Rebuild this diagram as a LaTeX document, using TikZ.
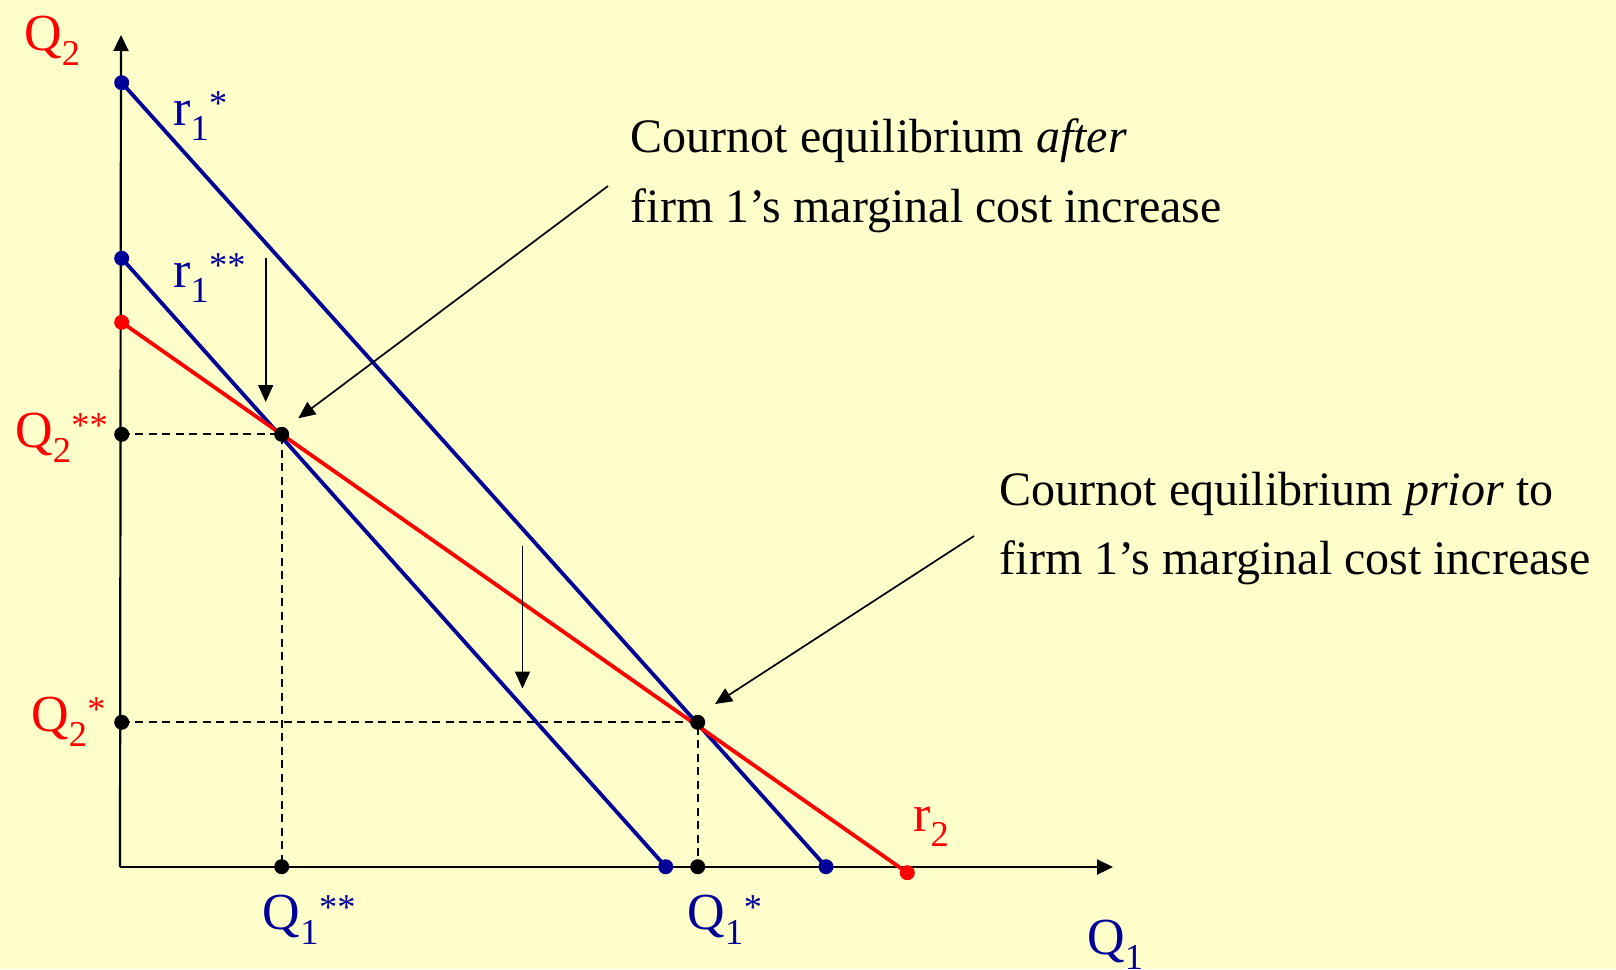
\documentclass[tikz,border=0pt]{standalone}
\usepackage{fontspec}
\setmainfont{Liberation Serif}
\usetikzlibrary{arrows.meta}
\definecolor{bgyellow}{RGB}{255,255,204}
\definecolor{navy}{RGB}{0,0,153}
\definecolor{redline}{RGB}{255,0,0}
\begin{document}
\begin{tikzpicture}[x=1pt,y=-1pt,
  dot/.style={circle,fill=#1,inner sep=0pt,minimum size=15pt},
  dot/.default=black,
  resp/.style={line width=3.8pt,draw=#1},
  axisline/.style={line width=2.2pt,-{Triangle[length=16pt,width=15pt]}},
  guide/.style={line width=1.9pt,dash pattern=on 8pt off 5.5pt},
  pointer/.style={line width=1.7pt,-{Triangle[length=17pt,width=15pt]}},
  note/.style={font=\fontsize{48}{70}\selectfont,inner sep=0pt,anchor=base west},
  lbl/.style={font=\fontsize{52}{60}\selectfont,inner sep=0pt,anchor=base west,text=#1},
]
\fill[bgyellow] (0,0) rectangle (1616,969);
\useasboundingbox (0,0) rectangle (1616,969);

% key points
\coordinate (O) at (120,867);
\coordinate (ytop) at (121,35);
\coordinate (xend) at (1113,867);
\coordinate (r1sT) at (121.7,82.7);
\coordinate (r1sB) at (826,866.7);
\coordinate (r1ssT) at (121.7,258.3);
\coordinate (r1ssB) at (665.7,866.7);
\coordinate (r2T) at (121.7,322.3);
\coordinate (r2B) at (907.3,872.7);
\coordinate (eqA) at (281.7,434.3);
\coordinate (eqP) at (697.7,722.3);
\coordinate (q2ss) at (121.7,434.3);
\coordinate (q2s) at (121.7,722.3);
\coordinate (q1ss) at (281.7,866.7);
\coordinate (q1s) at (697.7,866.7);

% guides
\draw[guide] (q2ss) -- (eqA) -- (q1ss);
\draw[guide] (q2s) -- (eqP) -- (q1s);

% axes
\draw[axisline] (O) -- (ytop);
\draw[axisline] (O) -- (xend);

% reaction functions
\draw[resp=navy] (r1sT) -- (r1sB);
\draw[resp=navy] (r1ssT) -- (r1ssB);
\draw[resp=redline] (r2T) -- (r2B);

% dots
\node[dot=navy] (d1) at (r1sT) {};
\node[dot=navy] (d2) at (r1sB) {};
\node[dot=navy] (d3) at (r1ssT) {};
\node[dot=navy] (d4) at (r1ssB) {};
\node[dot=redline] (d5) at (r2T) {};
\node[dot=redline] (d6) at (r2B) {};
\node[dot] (eA) at (eqA) {};
\node[dot] (eP) at (eqP) {};
\node[dot] (a1) at (q2ss) {};
\node[dot] (a2) at (q2s) {};
\node[dot] (a3) at (q1ss) {};
\node[dot] (a4) at (q1s) {};

% shift arrows
\coordinate (s1a) at (265.7,258.3);
\coordinate (s1b) at (265.7,402);
\coordinate (s2a) at (522.5,546);
\coordinate (s2b) at (522.5,688.5);
\draw[pointer] (s1a) -- (s1b);
\draw[pointer] (s2a) -- (s2b);

% annotation texts
\node[note] (t1) at (630.7,152.5) {Cournot equilibrium \textit{after}};
\node[note] (t2) at (630.7,222.6) {firm 1’s marginal cost increase};
\node[note] (t3) at (999.7,505) {Cournot equilibrium \textit{prior} to};
\node[note] (t4) at (999.7,574) {firm 1’s marginal cost increase};
\coordinate (p1) at (608,186);
\coordinate (p1t) at (298.3,418.3);
\coordinate (p2) at (974,536);
\coordinate (p2t) at (715,704);
\draw[pointer] (p1) -- (p1t);
\draw[pointer] (p2) -- (p2t);

% labels
\node[lbl=redline] (lQ2) at (24,50) {Q\textsubscript{2}};
\node[lbl=navy] (lr1s) at (173,125) {r\textsubscript{1}\textsuperscript{*}};
\node[lbl=navy] (lr1ss) at (173,287) {r\textsubscript{1}\textsuperscript{**}};
\node[lbl=redline] (lQ2ss) at (15,447) {Q\textsubscript{2}\textsuperscript{**}};
\node[lbl=redline] (lQ2s) at (31,731) {Q\textsubscript{2}\textsuperscript{*}};
\node[lbl=navy] (lQ1ss) at (262.7,929) {Q\textsubscript{1}\textsuperscript{**}};
\node[lbl=navy] (lQ1s) at (687.3,929) {Q\textsubscript{1}\textsuperscript{*}};
\node[lbl=redline] (lr2) at (913,831) {r\textsubscript{2}};
\node[lbl=navy] (lQ1) at (1087,954) {Q\textsubscript{1}};
\end{tikzpicture}
\end{document}
